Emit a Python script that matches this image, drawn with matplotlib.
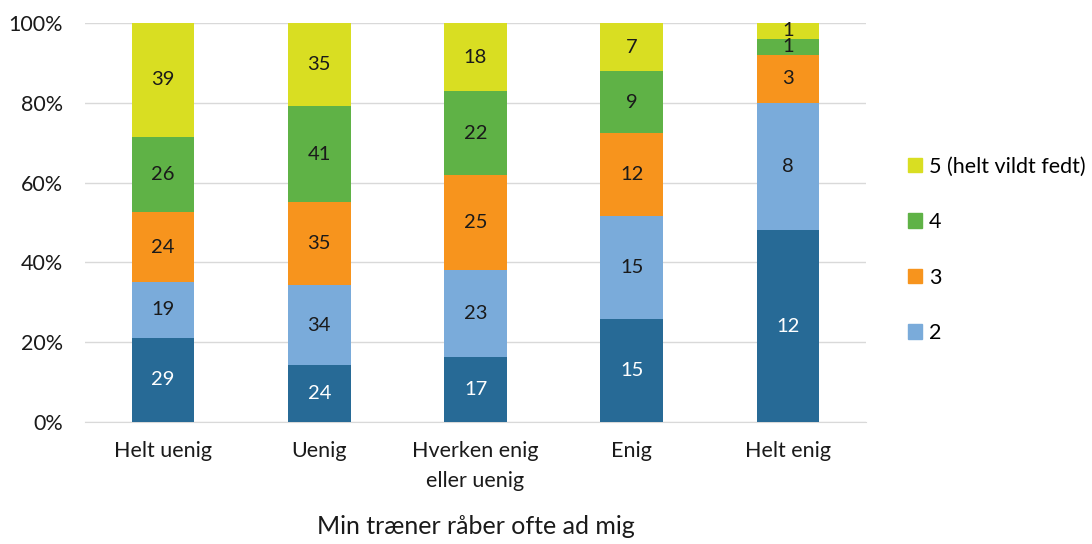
import matplotlib
matplotlib.use("Agg")
import matplotlib.pyplot as plt
import numpy as np
from matplotlib.patches import Patch

categories = ["Helt uenig", "Uenig", "Hverken enig\neller uenig", "Enig", "Helt enig"]
series_names = ["1", "2", "3", "4", "5 (helt vildt fedt)"]
s1 = [29, 24, 17, 15, 12]
s2 = [19, 34, 23, 15, 8]
s3 = [24, 35, 25, 12, 3]
s4 = [26, 41, 22, 9, 1]
s5 = [39, 35, 18, 7, 1]
colors = ["#276A96", "#7AABDA", "#F7941D", "#5FB246", "#D9DE22"]
text_colors = ["white", "#1a1a1a", "#1a1a1a", "#1a1a1a", "#1a1a1a"]

plt.rcParams['font.family'] = ['Lato', 'DejaVu Sans']

data = np.array([s1, s2, s3, s4, s5], dtype=float)
totals = data.sum(axis=0)
pct = data / totals

fig = plt.figure(figsize=(10.92, 5.44), dpi=100)
ax = fig.add_axes([85/1092, 1-422/544, (866-85)/1092, (422-23)/544])
x = np.arange(len(categories))
bottom = np.zeros(len(categories))
for i in range(5):
    ax.bar(x, pct[i], bottom=bottom, width=0.40, color=colors[i], zorder=3)
    for j in range(len(categories)):
        ax.text(x[j], bottom[j] + pct[i][j] / 2, f"{int(data[i][j])}", ha="center", va="center",
                color=text_colors[i], fontsize=14.5, zorder=4)
    bottom += pct[i]

ax.set_xlim(-0.5, 4.5)
ax.set_ylim(0, 1)
ax.set_yticks(np.arange(0, 1.01, 0.2))
ax.set_yticklabels([f"{int(v*100)}%" for v in np.arange(0, 1.01, 0.2)], fontsize=15.5)
ax.set_xticks(x)
ax.set_xticklabels(categories, fontsize=15.5, linespacing=1.6)
ax.grid(axis="y", color="#D9D9D9", linewidth=1, zorder=0)
for s in ["top", "right", "left"]:
    ax.spines[s].set_visible(False)
ax.spines["bottom"].set_color("#D9D9D9")
ax.tick_params(axis="both", length=0, colors="#1a1a1a")
ax.tick_params(axis="y", pad=16)
ax.tick_params(axis="x", pad=14)
ax.set_xlabel("Min træner råber ofte ad mig", fontsize=18, labelpad=17, color="#1a1a1a")

handles = [Patch(color=colors[i], label=series_names[i]) for i in [4, 3, 2, 1]]
fig.legend(handles=handles, loc="upper left", bbox_to_anchor=(899/1092, 1-148/544),
           frameon=False, fontsize=15.5, labelspacing=1.65, handlelength=0.65, handleheight=0.65,
           handletextpad=0.35, borderaxespad=0)

fig.savefig("out.png", dpi=100)
